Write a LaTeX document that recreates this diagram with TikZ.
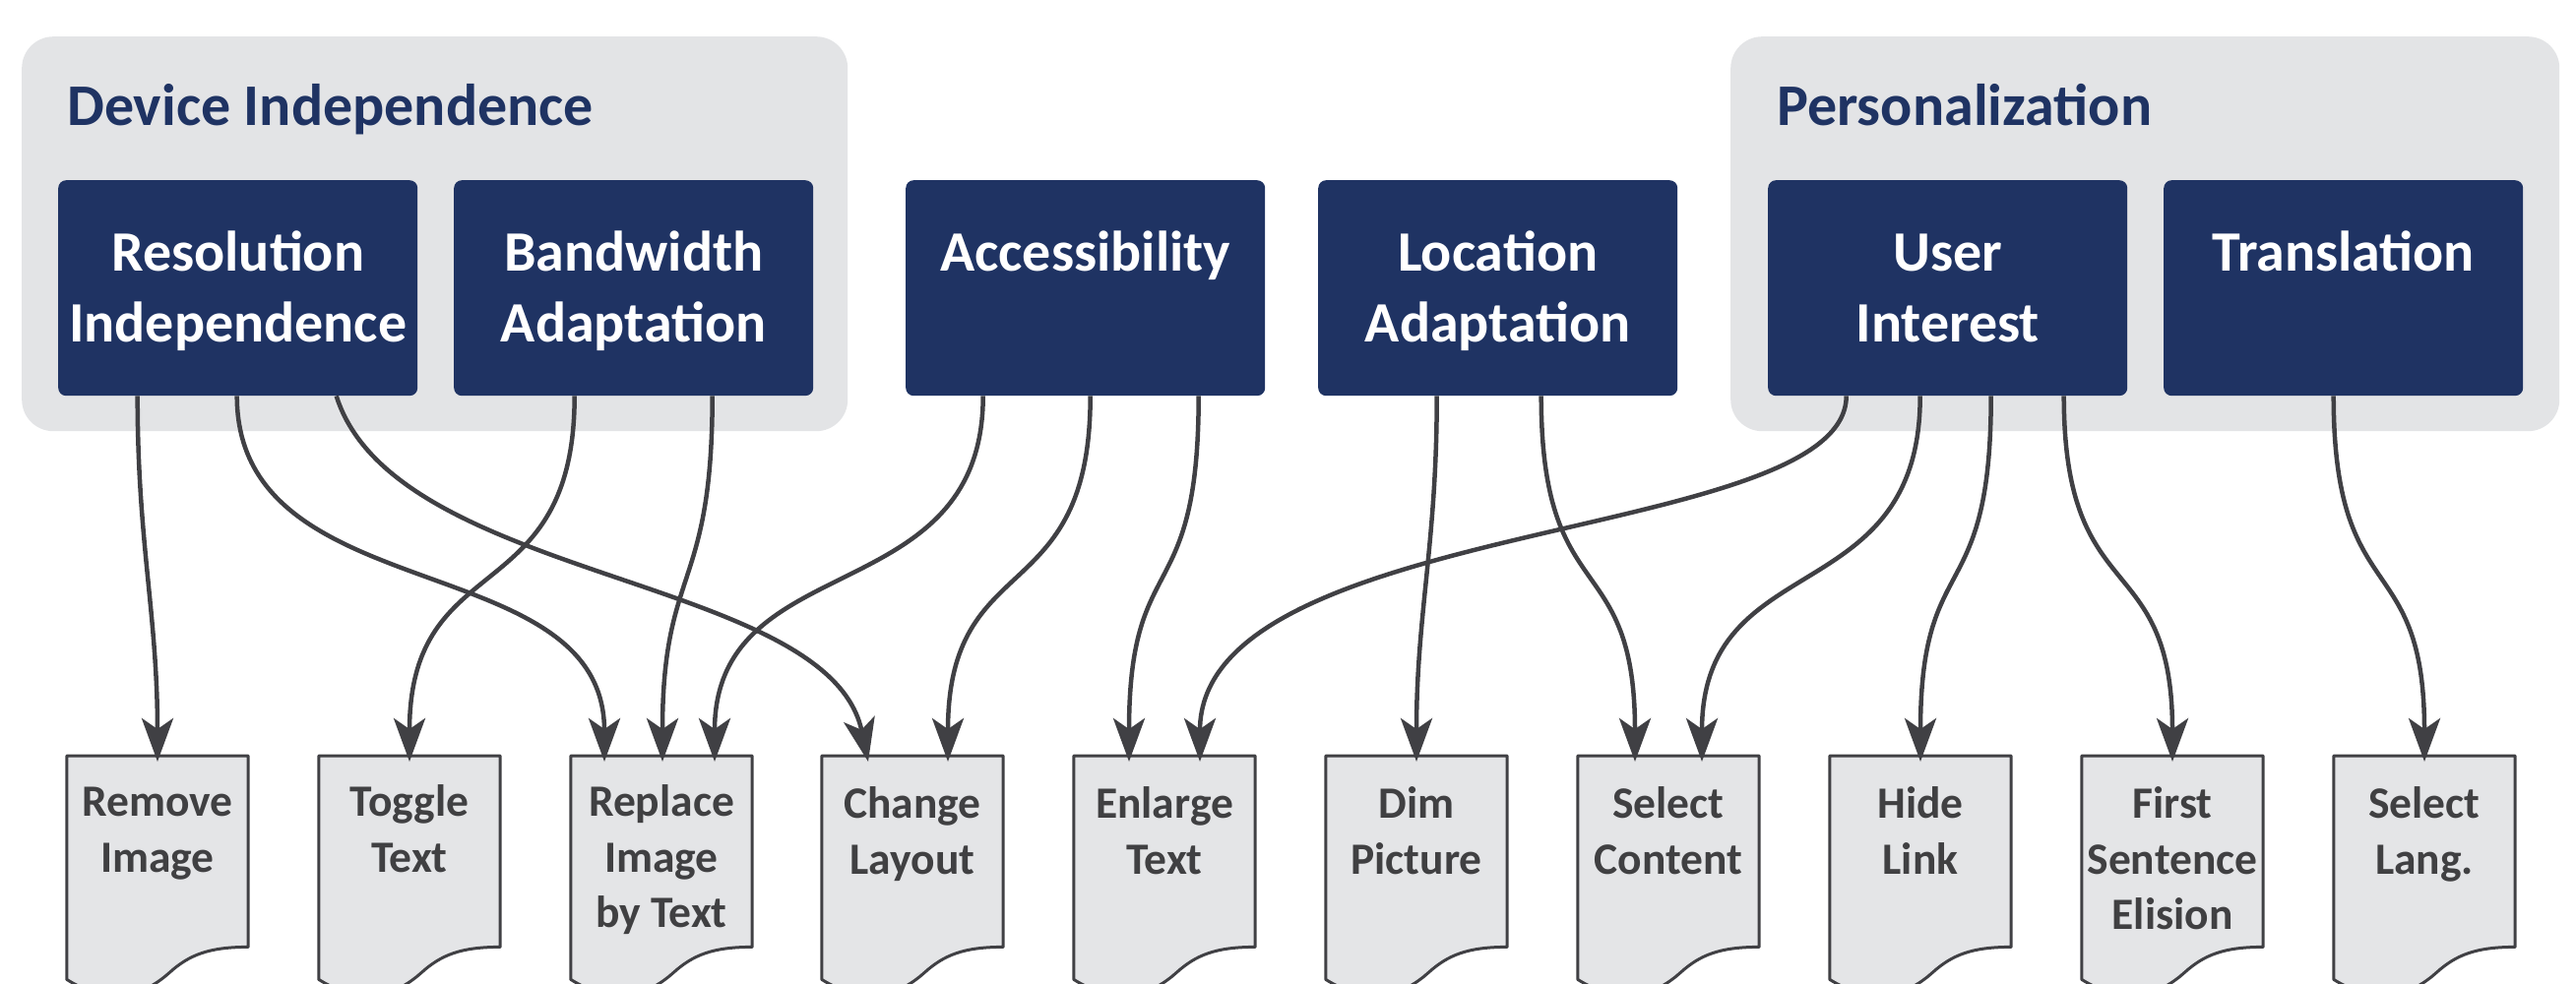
\documentclass[tikz,border=0pt]{standalone}
\usepackage{fontspec}
\setmainfont{Carlito}
\usetikzlibrary{arrows.meta}
\definecolor{navy}{RGB}{31,51,99}
\definecolor{groupbg}{RGB}{227,228,230}
\definecolor{docfill}{RGB}{228,229,231}
\definecolor{ink}{RGB}{64,64,68}
\definecolor{doctext}{RGB}{64,64,66}
\newcommand\docoutline[1]{%
  \draw[docstyle] (#1.north west) -- (#1.north east) -- (#1.south east)
    .. controls ([xshift=-40pt]#1.south east) and ([xshift=-60pt,yshift=-8pt]#1.south east)
    .. ([xshift=-80pt,yshift=-26pt]#1.south east)
    .. controls ([xshift=-110pt,yshift=-53pt]#1.south east) and ([xshift=40pt,yshift=-58pt]#1.south west)
    .. ([yshift=-33pt]#1.south west) -- cycle;}
\begin{document}
\begin{tikzpicture}[x=1pt,y=-1pt,
  group/.style={fill=groupbg, rounded corners=32pt},
  grouptitle/.style={text=navy, font=\bfseries\fontsize{60}{72}\selectfont, anchor=base west, inner sep=0pt},
  cat/.style={fill=navy, rounded corners=8pt, minimum width=365pt, minimum height=219pt, inner sep=0pt, anchor=north west},
  cattext/.style={text=white, font=\bfseries\fontsize{58}{72}\selectfont, align=center, anchor=north, inner sep=0pt},
  docnode/.style={minimum width=184pt, minimum height=194pt, inner sep=0pt, anchor=north},
  docstyle/.style={fill=docfill, draw=ink, line width=3pt, line join=round},
  doclabel/.style={text=doctext, font=\bfseries\fontsize{45.5}{56.5}\selectfont, align=center, anchor=north, inner sep=0pt},
  conn/.style={draw=ink, line width=4.5pt, -{Stealth[length=44pt,width=32pt,inset=11pt]}}
]
\useasboundingbox (0,0) rectangle (2617,1000);

% groups
\node[group, minimum width=839pt, minimum height=401pt, anchor=north west, inner sep=0pt] (g1) at (22,37) {};
\node[group, minimum width=842pt, minimum height=401pt, anchor=north west, inner sep=0pt] (g2) at (1758,37) {};
\node[grouptitle] (g1t) at (68,128) {Device Independence};
\node[grouptitle] (g2t) at (1805,128) {Personalization};

% category boxes
\node[cat] (ri) at (59,183) {};
\node[cat] (ba) at (461,183) {};
\node[cat] (ac) at (920,183) {};
\node[cat] (la) at (1339,183) {};
\node[cat] (ui) at (1796,183) {};
\node[cat] (tr) at (2198,183) {};
\node[cattext] (rit) at ([yshift=-41.6pt]ri.north) {\strut Resolution\\Independence};
\node[cattext] (bat) at ([yshift=-41.6pt]ba.north) {\strut Bandwidth\\Adaptation};
\node[cattext] (act) at ([yshift=-41.6pt]ac.north) {\strut Accessibility};
\node[cattext] (lat) at ([yshift=-41.6pt]la.north) {\strut Location\\Adaptation};
\node[cattext] (uit) at ([yshift=-41.6pt]ui.north) {\strut User\\Interest};
\node[cattext] (trt) at ([yshift=-41.6pt]tr.north) {\strut Translation};

% documents
\node[docnode] (d1) at (160,768) {};
\node[docnode] (d2) at (416,768) {};
\node[docnode] (d3) at (672,768) {};
\node[docnode] (d4) at (927,768) {};
\node[docnode] (d5) at (1183,768) {};
\node[docnode] (d6) at (1439,768) {};
\node[docnode] (d7) at (1695,768) {};
\node[docnode] (d8) at (1951,768) {};
\node[docnode] (d9) at (2207,768) {};
\node[docnode] (d10) at (2463,768) {};
\foreach \d in {d1,d2,d3,d4,d5,d6,d7,d8,d9,d10} {\docoutline{\d}}
\node[doclabel] (d1t) at ([yshift=-22pt]d1.north) {\strut Remove\\Image};
\node[doclabel] (d2t) at ([yshift=-22pt]d2.north) {\strut Toggle\\Text};
\node[doclabel] (d3t) at ([yshift=-22pt]d3.north) {\strut Replace\\Image\\by Text};
\node[doclabel] (d4t) at ([yshift=-24pt]d4.north) {\strut Change\\Layout};
\node[doclabel] (d5t) at ([yshift=-24pt]d5.north) {\strut Enlarge\\Text};
\node[doclabel] (d6t) at ([yshift=-24pt]d6.north) {\strut Dim\\Picture};
\node[doclabel] (d7t) at ([yshift=-24pt]d7.north) {\strut Select\\Content};
\node[doclabel] (d8t) at ([yshift=-24pt]d8.north) {\strut Hide\\Link};
\node[doclabel] (d9t) at ([yshift=-24pt]d9.north) {\strut First\\Sentence\\Elision};
\node[doclabel] (d10t) at ([yshift=-24pt]d10.north) {\strut Select\\Lang.};

% connectors
\draw[conn] ([xshift=-102pt]ri.south) .. controls +(0,150) and +(0,-150) .. ([yshift=-6pt]d1.north);
\draw[conn] ([xshift=-1pt]ri.south) .. controls +(0,220) and +(0,-220) .. ([xshift=-58pt,yshift=-6pt]d3.north);
\draw[conn] ([xshift=100pt]ri.south) .. controls +(60,190) and +(-40,-190) .. ([xshift=-45pt,yshift=-6pt]d4.north);
\draw[conn] ([xshift=-60pt]ba.south) .. controls +(0,220) and +(0,-220) .. ([yshift=-6pt]d2.north);
\draw[conn] ([xshift=80pt]ba.south) .. controls +(0,200) and +(0,-200) .. ([xshift=1pt,yshift=-6pt]d3.north);
\draw[conn] ([xshift=-104pt]ac.south) .. controls +(0,220) and +(0,-220) .. ([xshift=54pt,yshift=-6pt]d3.north);
\draw[conn] ([xshift=5pt]ac.south) .. controls +(0,220) and +(0,-220) .. ([xshift=36pt,yshift=-6pt]d4.north);
\draw[conn] ([xshift=115pt]ac.south) .. controls +(0,220) and +(0,-220) .. ([xshift=-36pt,yshift=-6pt]d5.north);
\draw[conn] ([xshift=-62pt]la.south) .. controls +(0,150) and +(0,-150) .. ([yshift=-6pt]d6.north);
\draw[conn] ([xshift=44pt]la.south) .. controls +(0,220) and +(0,-220) .. ([xshift=-34pt,yshift=-6pt]d7.north);
\draw[conn] ([xshift=-103pt]ui.south) .. controls +(0,150) and +(0,-250) .. ([xshift=36pt,yshift=-6pt]d5.north);
\draw[conn] ([xshift=-28pt]ui.south) .. controls +(0,220) and +(0,-220) .. ([xshift=34pt,yshift=-6pt]d7.north);
\draw[conn] ([xshift=44pt]ui.south) .. controls +(0,220) and +(0,-220) .. ([yshift=-6pt]d8.north);
\draw[conn] ([xshift=118pt]ui.south) .. controls +(0,220) and +(0,-220) .. ([yshift=-6pt]d9.north);
\draw[conn] ([xshift=-10pt]tr.south) .. controls +(0,220) and +(0,-220) .. ([yshift=-6pt]d10.north);
\end{tikzpicture}
\end{document}
